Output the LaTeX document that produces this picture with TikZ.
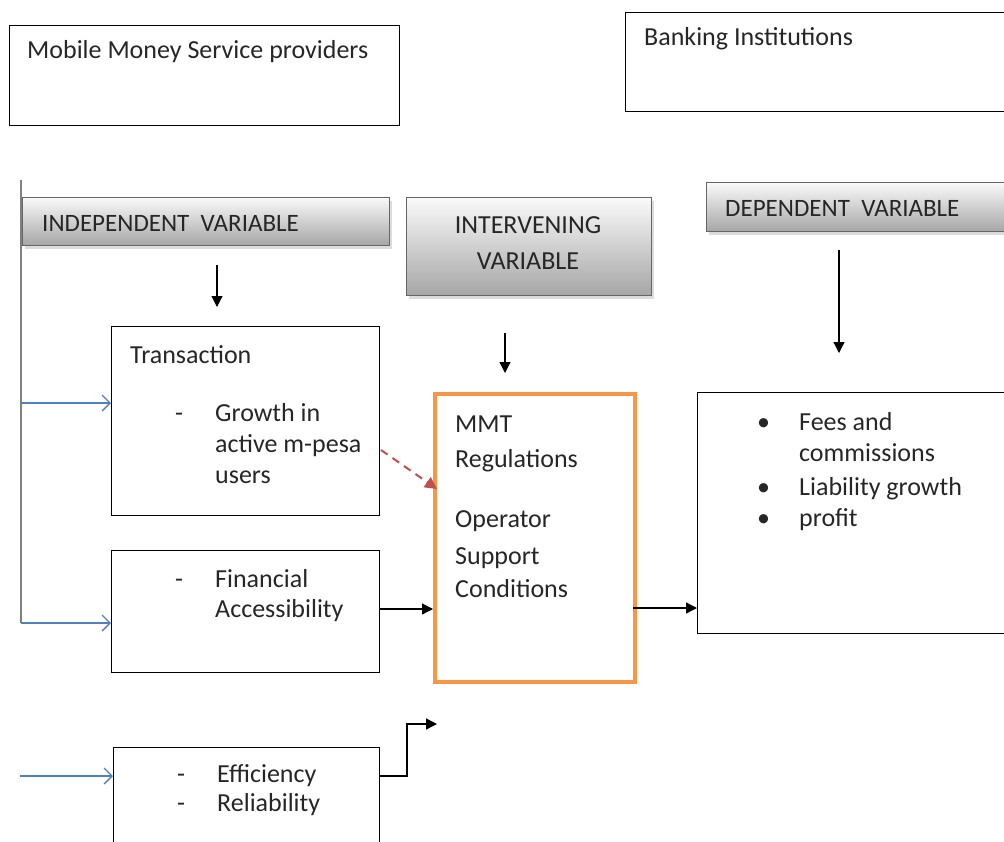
\documentclass[tikz,border=0pt]{standalone}
\usepackage{fontspec}
\setmainfont{Carlito}
\usetikzlibrary{arrows.meta,shadows}
\definecolor{oran}{RGB}{247,150,70}
\definecolor{bluel}{RGB}{79,129,189}
\definecolor{redd}{RGB}{192,80,77}
\tikzset{
  box/.style={draw=black, line width=1.2pt, anchor=north west, inner sep=0pt},
  hdr/.style={draw=gray!80!black, line width=1pt, anchor=north west, inner sep=0pt,
    top color=white!96!gray, bottom color=gray!70,
    drop shadow={shadow xshift=2pt, shadow yshift=-3pt, fill=gray!55}},
  txt/.style={anchor=base west, inner sep=0pt, font=\fontsize{26}{30}\selectfont, text=black!85},
  ctxt/.style={anchor=base, inner sep=0pt, font=\fontsize{26}{30}\selectfont, text=black!85},
  htxt/.style={anchor=base west, inner sep=0pt, font=\fontsize{25}{30}\selectfont, text=black!85},
  blk/.style={draw=black, line width=1.2pt, -{Triangle[length=11pt,width=11pt]}},
  blu/.style={draw=bluel, line width=1.3pt, -{Straight Barb[length=8pt,width=16pt]}},
}
\begin{document}
\begin{tikzpicture}[x=1pt,y=-1pt]
\useasboundingbox (0,0) rectangle (1004,841);
% top boxes
\node[box, minimum width=390pt, minimum height=100pt] (mmsp) at (9,25) {};
\node[txt] (mmspt) at (27,58) {Mobile Money Service providers};
\node[box, minimum width=390pt, minimum height=99pt] (bank) at (625,12) {};
\node[txt] (bankt) at (644,45) {Banking Institutions};
% headers
\node[hdr, minimum width=367pt, minimum height=48pt] (ind) at (22,197) {};
\node[htxt] (indt) at (42,231) {INDEPENDENT\ \ VARIABLE};
\node[hdr, minimum width=245pt, minimum height=98pt] (int) at (406,197) {};
\node[ctxt] (intt1) at (528,233) {INTERVENING};
\node[ctxt] (intt2) at (528,269) {VARIABLE};
\node[hdr, minimum width=310pt, minimum height=49pt] (dep) at (706,182) {};
\node[htxt] (dept) at (725,216) {DEPENDENT\ \ VARIABLE};
% boxes
\node[box, minimum width=268pt, minimum height=189pt] (trans) at (111,326) {};
\node[txt] (t1) at (130,363) {Transaction};
\node[txt] (t2) at (175,421) {-};
\node[txt] (t3) at (215,421) {Growth in};
\node[txt] (t4) at (215,452) {active m-pesa};
\node[txt] (t5) at (215,483) {users};
\node[box, minimum width=268pt, minimum height=122pt] (fin) at (111,550) {};
\node[txt] (f1) at (175,587) {-};
\node[txt] (f2) at (215,587) {Financial};
\node[txt] (f3) at (215,617) {Accessibility};
\node[box, minimum width=266pt, minimum height=110pt] (eff) at (113,747) {};
\node[txt] (e1) at (177,782) {-};
\node[txt] (e2) at (217,782) {Efficiency};
\node[txt] (e3) at (177,811) {-};
\node[txt] (e4) at (217,811) {Reliability};
\node[box, draw=oran, line width=3.5pt, minimum width=200pt, minimum height=288pt] (mmt) at (433,392) {};
\node[txt] (m1) at (455,432) {MMT};
\node[txt] (m2) at (455,467) {Regulations};
\node[txt] (m3) at (455,527) {Operator};
\node[txt] (m4) at (455,564) {Support};
\node[txt] (m5) at (455,597) {Conditions};
\node[box, minimum width=320pt, minimum height=241pt] (out) at (697,392) {};
\node[txt] (o1) at (757,430) {\textbullet};
\node[txt] (o2) at (799,430) {Fees and};
\node[txt] (o3) at (799,461) {commissions};
\node[txt] (o4) at (757,495) {\textbullet};
\node[txt] (o5) at (799,495) {Liability growth};
\node[txt] (o6) at (757,526) {\textbullet};
\node[txt] (o7) at (799,526) {profit};
% left bar
\coordinate (lt) at (21,180);
\coordinate (lb) at (21,623);
\coordinate (la) at (21,403);
\coordinate (lc) at (20,776);
\draw[gray, line width=1.5pt] (lt) -- (lb);
\draw[blu] (la) -- (la -| trans.west);
\draw[blu] (lb) -- (lb -| fin.west);
\draw[blu] (lc) -- (lc -| eff.west);
% down arrows
\coordinate (d1a) at (217,265); \coordinate (d1b) at (217,307);
\coordinate (d2a) at (505,333); \coordinate (d2b) at (505,373);
\coordinate (d3a) at (839,250); \coordinate (d3b) at (839,353);
\draw[blk] (d1a) -- (d1b);
\draw[blk] (d2a) -- (d2b);
\draw[blk] (d3a) -- (d3b);
% connections
\coordinate (ra) at (381,450);
\coordinate (rb) at (437,489);
\draw[redd, line width=2pt, dash pattern=on 8pt off 6pt, -{Triangle[length=12pt,width=12pt]}] (ra) -- (rb);
\coordinate (fa) at (379,609);
\draw[blk] (fa) -- (fa -| mmt.west);
\coordinate (ma) at (633,608);
\draw[blk] (ma) -- (ma -| out.west);
\coordinate (ea) at (379,776);
\coordinate (eb) at (437,724);
\draw[blk, line width=1.3pt] (ea) -- (407,776) -- (407,724) -- (eb);
\end{tikzpicture}
\end{document}
